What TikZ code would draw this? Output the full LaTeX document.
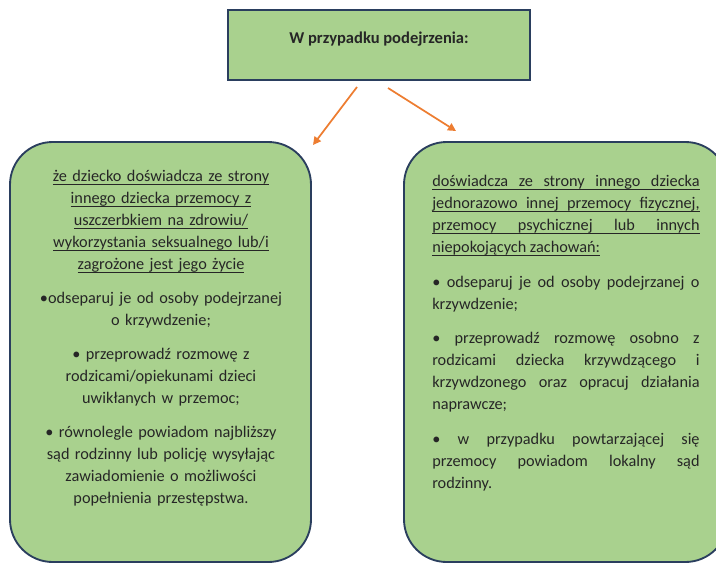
\documentclass[tikz,border=0pt]{standalone}
\usepackage{fontspec}
\setmainfont{Carlito}
\usetikzlibrary{arrows.meta, positioning}

\definecolor{boxgreen}{HTML}{A9D18E}
\definecolor{boxline}{HTML}{2A3E5E}
\definecolor{arroworange}{HTML}{ED7D31}
\definecolor{textgray}{HTML}{262626}

% underline at a fixed depth
\newcommand\lineul[1]{\leavevmode\setbox0=\hbox{#1}\rlap{\rule[-2.5pt]{\wd0}{0.55pt}}\box0}
% justified, underlined line
\newcommand\fullul[1]{\lineul{\makebox[200.5pt][s]{#1}}}

\tikzset{
	greenbox/.style={draw=boxline, fill=boxgreen, line width=1.4pt},
	roundbox/.style={greenbox, rounded corners=32pt},
	bodytext/.style={font=\fontsize{12.2}{16.5}\selectfont, text=textgray, inner sep=0pt},
	orangearrow/.style={draw=arroworange, line width=1.3pt, -{Triangle[length=6pt, width=6pt]}}
}

\begin{document}
\begin{tikzpicture}[x=0.75pt, y=-0.75pt]
	\useasboundingbox (0,0) rectangle (716,564);
	\clip (0,0) rectangle (716,564);

	% header box
	\node[greenbox, minimum width=226.5pt, minimum height=52.5pt, font=\bfseries\fontsize{12.4}{14}\selectfont,
		text=textgray, text height=8pt, text depth=10pt] (top) at (379,45) {W przypadku podejrzenia:};

	% the two cases
	\node[roundbox, minimum width=225.75pt, minimum height=315pt] (left) at (160.5,352) {};
	\node[roundbox, minimum width=243pt, minimum height=315pt] (right) at (566,352) {};

	\node[bodytext, anchor=north, align=center, text width=190pt] (lefttext) at (161,170) {%
		\lineul{że dziecko doświadcza ze strony}\\
		\lineul{innego dziecka przemocy z}\\
		\lineul{uszczerbkiem na zdrowiu/}\\
		\lineul{wykorzystania seksualnego lub/i}\\
		\lineul{zagrożone jest jego życie}\\[9pt]
		•odseparuj je od osoby podejrzanej\\
		o krzywdzenie;\\[9pt]
		• przeprowadź rozmowę z\\
		rodzicami/opiekunami dzieci\\
		uwikłanych w przemoc;\\[9pt]
		• równolegle powiadom najbliższy\\
		sąd rodzinny lub policję wysyłając\\
		zawiadomienie o możliwości\\
		popełnienia przestępstwa.};

	\node[bodytext, anchor=north west, align=justify, text width=200.5pt] (righttext) at (432,175) {%
		\setlength{\parskip}{9.5pt}%
		\fullul{doświadcza ze strony innego dziecka}\newline
		\fullul{jednorazowo innej przemocy fizycznej,}\newline
		\fullul{przemocy psychicznej lub innych}\newline
		\lineul{niepokojących zachowań:}\par
		• odseparuj je od osoby podejrzanej o\linebreak
		krzywdzenie;\par
		• przeprowadź rozmowę osobno z\linebreak
		rodzicami dziecka krzywdzącego i\linebreak
		krzywdzonego oraz opracuj działania\linebreak
		naprawcze;\par
		• w przypadku powtarzającej się\linebreak
		przemocy powiadom lokalny sąd\linebreak
		rodzinny.};

	% arrows
	\coordinate (lstart) at (357,87);
	\coordinate (ltip) at (313,145);
	\coordinate (rstart) at (388,88);
	\coordinate (rtip) at (456,131);
	\draw[orangearrow] (lstart) -- (ltip);
	\draw[orangearrow] (rstart) -- (rtip);
\end{tikzpicture}
\end{document}
